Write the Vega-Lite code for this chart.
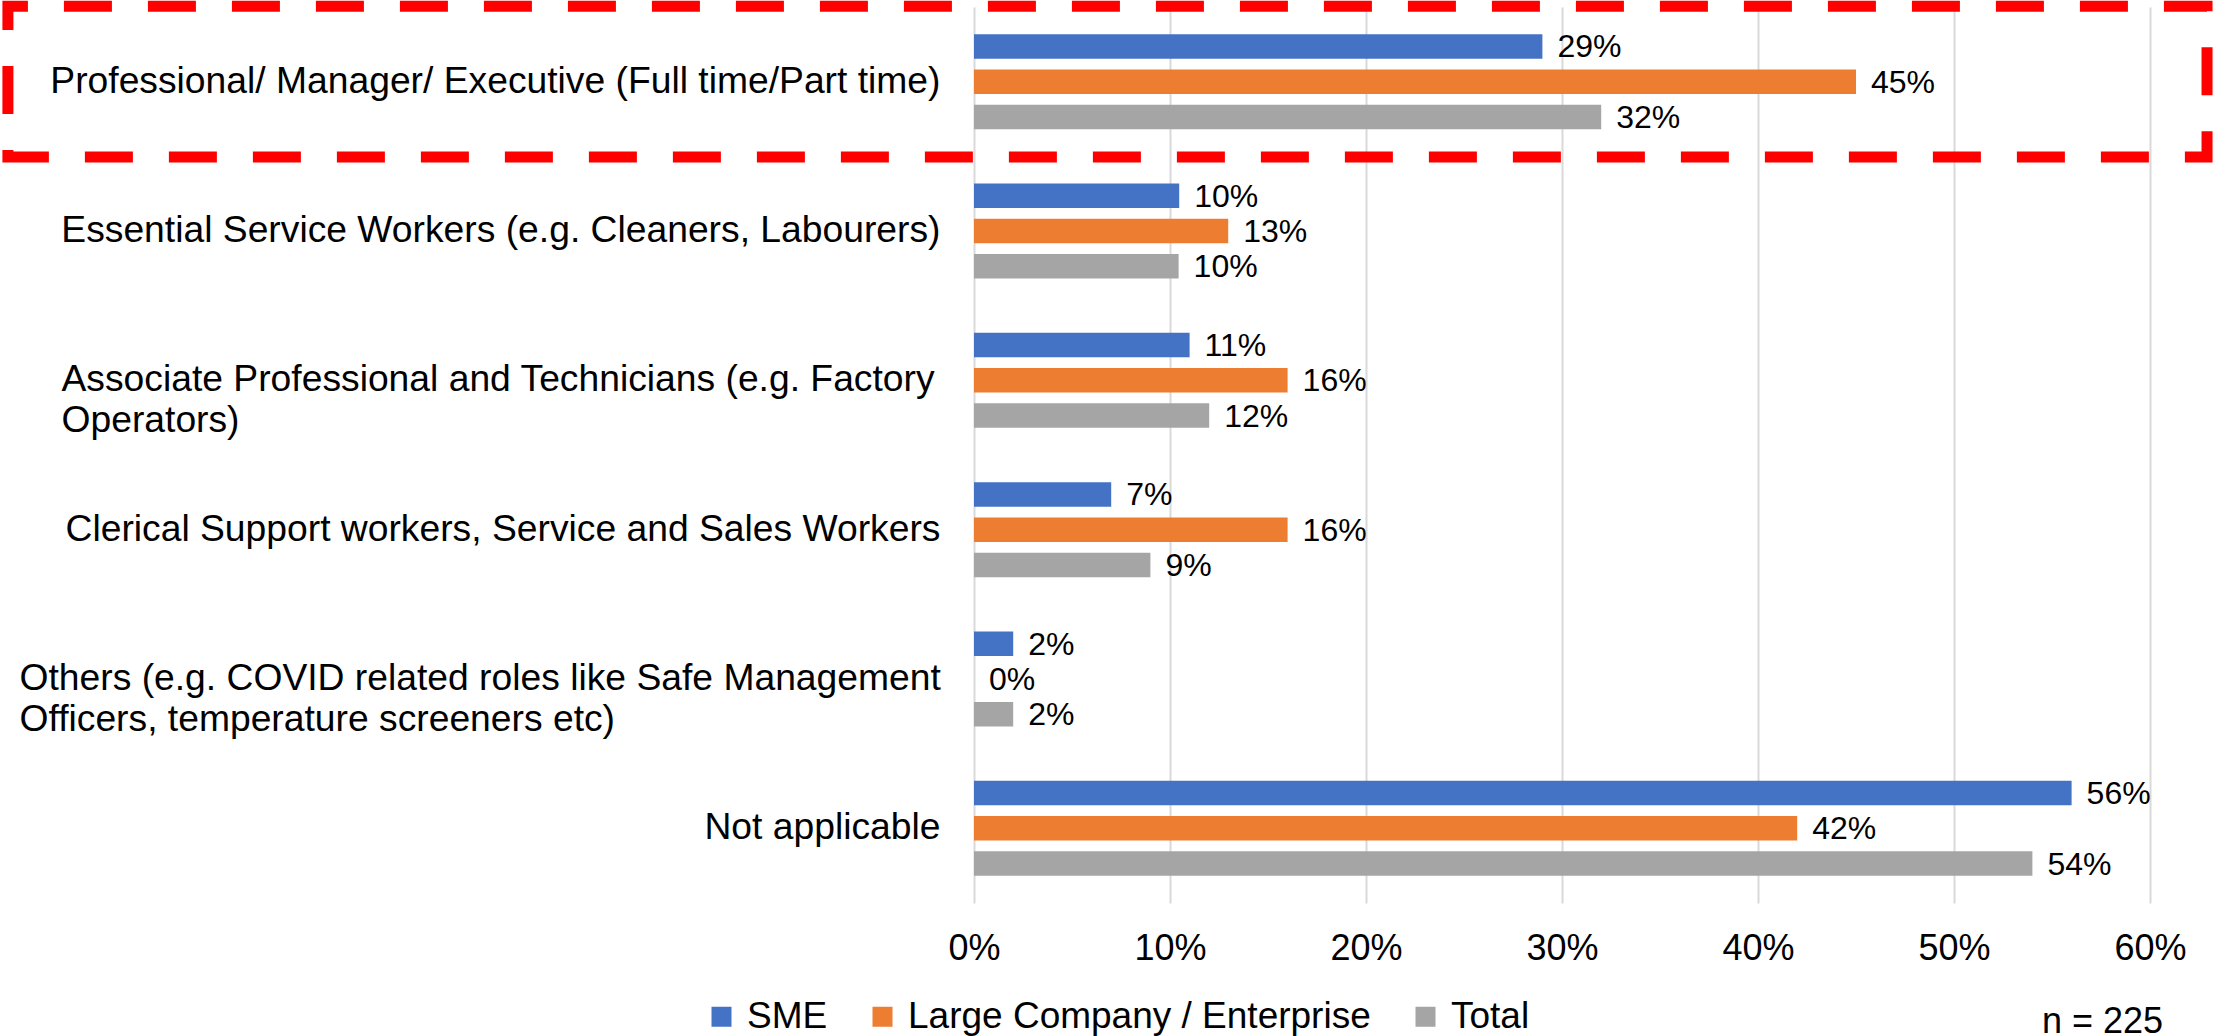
{
  "$schema": "https://vega.github.io/schema/vega-lite/v6.json",
  "width": 1176,
  "height": 896,
  "autosize": {"type": "none"},
  "padding": {"left": 974, "top": 7, "right": 66, "bottom": 133},
  "background": "white",
  "config": {
    "font": "Liberation Sans",
    "view": {"stroke": null},
    "legend": {
      "orient": "none",
      "legendX": -271,
      "legendY": 991,
      "direction": "horizontal",
      "symbolType": "square",
      "symbolSize": 400,
      "symbolStrokeWidth": 0,
      "labelFontSize": 37,
      "labelOffset": 7,
      "columnPadding": 36,
      "labelColor": "black",
      "labelLimit": 0,
      "padding": 0
    }
  },
  "title": {
    "text": "n = 225",
    "orient": "bottom",
    "anchor": "end",
    "frame": "group",
    "fontSize": 36,
    "fontWeight": "normal",
    "font": "Liberation Sans",
    "color": "black",
    "offset": -30,
    "dx": 13
  },
  "data": {
    "values": [
      {"role": "Professional/ Manager/ Executive (Full time/Part time)", "series": "SME", "value": 0.29},
      {"role": "Professional/ Manager/ Executive (Full time/Part time)", "series": "Large Company / Enterprise", "value": 0.45},
      {"role": "Professional/ Manager/ Executive (Full time/Part time)", "series": "Total", "value": 0.32},
      {"role": "Essential Service Workers (e.g. Cleaners, Labourers)", "series": "SME", "value": 0.1047},
      {"role": "Essential Service Workers (e.g. Cleaners, Labourers)", "series": "Large Company / Enterprise", "value": 0.1297},
      {"role": "Essential Service Workers (e.g. Cleaners, Labourers)", "series": "Total", "value": 0.1044},
      {"role": "Associate Professional and Technicians (e.g. Factory Operators)", "series": "SME", "value": 0.11},
      {"role": "Associate Professional and Technicians (e.g. Factory Operators)", "series": "Large Company / Enterprise", "value": 0.16},
      {"role": "Associate Professional and Technicians (e.g. Factory Operators)", "series": "Total", "value": 0.12},
      {"role": "Clerical Support workers, Service and Sales Workers", "series": "SME", "value": 0.07},
      {"role": "Clerical Support workers, Service and Sales Workers", "series": "Large Company / Enterprise", "value": 0.16},
      {"role": "Clerical Support workers, Service and Sales Workers", "series": "Total", "value": 0.09},
      {"role": "Others (e.g. COVID related roles like Safe Management Officers, temperature screeners etc)", "series": "SME", "value": 0.02},
      {"role": "Others (e.g. COVID related roles like Safe Management Officers, temperature screeners etc)", "series": "Large Company / Enterprise", "value": 0},
      {"role": "Others (e.g. COVID related roles like Safe Management Officers, temperature screeners etc)", "series": "Total", "value": 0.02},
      {"role": "Not applicable", "series": "SME", "value": 0.56},
      {"role": "Not applicable", "series": "Large Company / Enterprise", "value": 0.42},
      {"role": "Not applicable", "series": "Total", "value": 0.54}
    ]
  },
  "encoding": {
    "y": {
      "field": "role",
      "type": "nominal",
      "title": null,
      "sort": [
        "Professional/ Manager/ Executive (Full time/Part time)",
        "Essential Service Workers (e.g. Cleaners, Labourers)",
        "Associate Professional and Technicians (e.g. Factory Operators)",
        "Clerical Support workers, Service and Sales Workers",
        "Others (e.g. COVID related roles like Safe Management Officers, temperature screeners etc)",
        "Not applicable"
      ],
      "scale": {"paddingInner": 0.364, "paddingOuter": 0.182},
      "axis": {
        "domain": false,
        "ticks": false,
        "tickSize": 0,
        "grid": false,
        "labelFontSize": 37.25,
        "labelColor": "black",
        "labelLimit": 0,
        "labelLineHeight": 41,
        "labelBaseline": "middle",
        "labelExpr": "indexof(datum.value,'Associate')==0 ? ['Associate Professional and Technicians (e.g. Factory','Operators)'] : indexof(datum.value,'Others')==0 ? ['Others (e.g. COVID related roles like Safe Management','Officers, temperature screeners etc)'] : datum.label",
        "labelAlign": {
          "condition": {"test": "indexof(datum.value,'Associate')==0 || indexof(datum.value,'Others')==0", "value": "left"},
          "value": "right"
        },
        "labelPadding": {
          "condition": [
            {"test": "indexof(datum.value,'Associate')==0", "value": 913},
            {"test": "indexof(datum.value,'Others')==0", "value": 955}
          ],
          "value": 34
        }
      }
    }
  },
  "layer": [
    {
      "mark": {"type": "bar"},
      "encoding": {
        "x": {
          "field": "value",
          "type": "quantitative",
          "scale": {"domain": [0, 0.6], "nice": false, "zero": true},
          "axis": {
            "values": [0, 0.1, 0.2, 0.3, 0.4, 0.5, 0.6],
            "format": ".0%",
            "grid": true,
            "gridColor": "#D9D9D9",
            "gridWidth": 2,
            "domain": false,
            "ticks": false,
            "tickSize": 0,
            "labelFontSize": 36,
            "labelPadding": 28,
            "labelColor": "black",
            "labelFlush": false,
            "labelOverlap": false,
            "title": null
          }
        },
        "yOffset": {
          "field": "series",
          "type": "nominal",
          "sort": ["SME", "Large Company / Enterprise", "Total"],
          "scale": {"paddingInner": 0.304, "paddingOuter": 0}
        },
        "color": {
          "field": "series",
          "type": "nominal",
          "title": null,
          "scale": {
            "domain": ["SME", "Large Company / Enterprise", "Total"],
            "range": ["#4472C4", "#ED7D31", "#A5A5A5"]
          }
        }
      }
    },
    {
      "mark": {"type": "text", "align": "left", "baseline": "middle", "dx": 15, "dy": 1, "fontSize": 32, "color": "black"},
      "encoding": {
        "x": {"field": "value", "type": "quantitative"},
        "yOffset": {"field": "series", "type": "nominal", "sort": ["SME", "Large Company / Enterprise", "Total"]},
        "text": {"field": "value", "type": "quantitative", "format": ".0%"}
      }
    },
    {
      "data": {"values": [{"role": "Professional/ Manager/ Executive (Full time/Part time)"}]},
      "mark": {
        "type": "bar",
        "filled": false,
        "fill": null,
        "stroke": "#FF0000",
        "strokeWidth": 11,
        "strokeDash": [48, 36],
        "strokeDashOffset": 28,
        "height": {"band": 1.587}
      },
      "encoding": {
        "x": {"datum": -0.4929},
        "x2": {"datum": 0.6291}
      }
    }
  ]
}
